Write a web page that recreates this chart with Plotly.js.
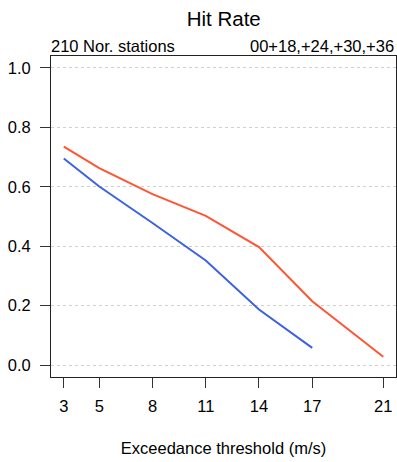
<!DOCTYPE html>
<html>
<head>
<meta charset="utf-8">
<script src="https://cdn.plot.ly/plotly-3.0.1.min.js"></script>
<style>html,body{margin:0;padding:0;background:#fff;}#chart{width:397px;height:462px;}</style>
</head>
<body>
<div id="chart"></div>
<script>
const thresholds = [3, 5, 8, 11, 14, 17, 21];
const thresholdLabels = ["3", "5", "8", "11", "14", "17", "21"];
const hitRateRed = [0.735, 0.663, 0.575, 0.502, 0.397, 0.215, 0.028];
const hitRateBlue = [0.695, 0.601, 0.478, 0.352, 0.187, 0.058];
const yTicks = [0, 0.2, 0.4, 0.6, 0.8, 1.0];
const yTickLabels = ["0.0", "0.2", "0.4", "0.6", "0.8", "1.0"];

const FONT = "Liberation Sans, Arial, Helvetica, sans-serif";

const traces = [
  {x: thresholds, y: hitRateRed, mode: "lines", name: "red",
   line: {color: "#FF5533", width: 2}},
  {x: thresholds.slice(0, hitRateBlue.length), y: hitRateBlue, mode: "lines", name: "blue",
   line: {color: "#3C62E0", width: 2}}
];

const layout = {
  width: 397, height: 462,
  margin: {l: 51, r: 1, t: 56, b: 85, pad: 0},
  paper_bgcolor: "#fff", plot_bgcolor: "#fff",
  showlegend: false,
  font: {family: FONT, size: 16.5, color: "#000"},
  title: {text: "Hit Rate", font: {family: FONT, size: 20.5, color: "#000"},
          x: 0.5635, xanchor: "center", yref: "container", y: 0.959, yanchor: "middle"},
  xaxis: {
    range: [2.28, 21.72], tickmode: "array", tickvals: thresholds, ticktext: thresholdLabels,
    ticks: "outside", ticklen: 10, tickcolor: "#333", tickwidth: 1,
    ticklabelstandoff: 4,
    showline: true, mirror: true, linecolor: "#222", linewidth: 1,
    showgrid: false, zeroline: false,
    tickfont: {family: FONT, size: 16.5, color: "#000"},
    title: {text: "Exceedance threshold (m/s)", font: {family: FONT, size: 16.5, color: "#000"}, standoff: 28}
  },
  yaxis: {
    range: [-0.04, 1.04], tickmode: "array", tickvals: yTicks, ticktext: yTickLabels,
    ticks: "outside", ticklen: 10, tickcolor: "#333", tickwidth: 1,
    ticklabelstandoff: 6,
    showline: true, mirror: true, linecolor: "#222", linewidth: 1,
    showgrid: true, gridcolor: "#d0d0d0", griddash: "dot", gridwidth: 1,
    zeroline: false,
    tickfont: {family: FONT, size: 16.5, color: "#000"}
  },
  annotations: [
    {text: "210 Nor. stations", xref: "paper", yref: "paper", x: 0, y: 1,
     xanchor: "left", yanchor: "bottom", showarrow: false, xshift: -2, yshift: -1,
     font: {family: FONT, size: 16.5, color: "#000"}},
    {text: "00+18,+24,+30,+36", xref: "paper", yref: "paper", x: 1, y: 1,
     xanchor: "right", yanchor: "bottom", showarrow: false, xshift: 0, yshift: -1,
     font: {family: FONT, size: 16.5, color: "#000"}}
  ]
};

Plotly.newPlot("chart", traces, layout, {displayModeBar: false, staticPlot: true});
</script>
</body>
</html>
